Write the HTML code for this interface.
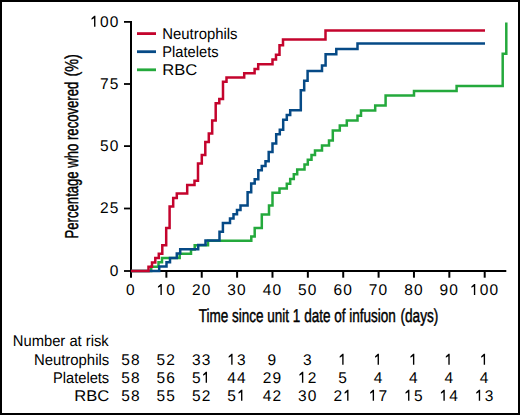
<!DOCTYPE html>
<html><head><meta charset="utf-8"><style>
html,body{margin:0;padding:0;background:#fff;}
#f{position:relative;width:520px;height:415px;overflow:hidden;background:#fff;}
#b{position:absolute;left:0;top:0;width:520px;height:415px;box-sizing:border-box;border:2px solid #000;}
svg{position:absolute;left:0;top:0;}
text{font-family:"Liberation Sans",sans-serif;fill:#000;text-rendering:geometricPrecision;}
.num{font-size:15.5px;text-rendering:geometricPrecision;}
.lbl{font-size:15.5px;}
.ttl{font-size:18.6px;stroke:#000;stroke-width:0.45px;}
</style></head><body><div id="f">
<svg width="520" height="415" viewBox="0 0 520 415">
<line x1="131" y1="21" x2="131" y2="277.7" stroke="#000" stroke-width="2"/>
<line x1="130" y1="271" x2="506.3" y2="271" stroke="#000" stroke-width="2"/>
<line x1="124" y1="21.9" x2="131" y2="21.9" stroke="#000" stroke-width="1.8"/>
<path d="M95.42,15.71 L95.42,26.70 L94.05,26.70 L94.05,18.33 L91.54,19.65 L91.54,18.33 L94.30,15.71 Z" fill="#000"/>
<text class="num" transform="translate(99.96,26.70) scale(1.0,1)">0</text>
<text class="num" transform="translate(109.78,26.70) scale(1.0,1)">0</text>
<line x1="124" y1="84" x2="131" y2="84" stroke="#000" stroke-width="1.8"/>
<text class="num" transform="translate(99.96,88.80) scale(1.0,1)">7</text>
<text class="num" transform="translate(109.78,88.80) scale(1.0,1)">5</text>
<line x1="124" y1="146.1" x2="131" y2="146.1" stroke="#000" stroke-width="1.8"/>
<text class="num" transform="translate(99.96,150.90) scale(1.0,1)">5</text>
<text class="num" transform="translate(109.78,150.90) scale(1.0,1)">0</text>
<line x1="124" y1="208.5" x2="131" y2="208.5" stroke="#000" stroke-width="1.8"/>
<text class="num" transform="translate(99.96,213.30) scale(1.0,1)">2</text>
<text class="num" transform="translate(109.78,213.30) scale(1.0,1)">5</text>
<line x1="124" y1="271" x2="131" y2="271" stroke="#000" stroke-width="1.8"/>
<text class="num" transform="translate(109.78,275.80) scale(1.0,1)">0</text>
<text class="num" transform="translate(126.09,294.90) scale(1.0,1)">0</text>
<line x1="166.37" y1="271" x2="166.37" y2="277.7" stroke="#000" stroke-width="2"/>
<path d="M161.82,283.91 L161.82,294.90 L160.46,294.90 L160.46,286.53 L157.95,287.85 L157.95,286.53 L160.71,283.91 Z" fill="#000"/>
<text class="num" transform="translate(166.37,294.90) scale(1.0,1)">0</text>
<line x1="201.74" y1="271" x2="201.74" y2="277.7" stroke="#000" stroke-width="2"/>
<text class="num" transform="translate(191.92,294.90) scale(1.0,1)">2</text>
<text class="num" transform="translate(201.74,294.90) scale(1.0,1)">0</text>
<line x1="237.11" y1="271" x2="237.11" y2="277.7" stroke="#000" stroke-width="2"/>
<text class="num" transform="translate(227.29,294.90) scale(1.0,1)">3</text>
<text class="num" transform="translate(237.11,294.90) scale(1.0,1)">0</text>
<line x1="272.48" y1="271" x2="272.48" y2="277.7" stroke="#000" stroke-width="2"/>
<text class="num" transform="translate(262.66,294.90) scale(1.0,1)">4</text>
<text class="num" transform="translate(272.48,294.90) scale(1.0,1)">0</text>
<line x1="307.85" y1="271" x2="307.85" y2="277.7" stroke="#000" stroke-width="2"/>
<text class="num" transform="translate(298.03,294.90) scale(1.0,1)">5</text>
<text class="num" transform="translate(307.85,294.90) scale(1.0,1)">0</text>
<line x1="343.22" y1="271" x2="343.22" y2="277.7" stroke="#000" stroke-width="2"/>
<text class="num" transform="translate(333.40,294.90) scale(1.0,1)">6</text>
<text class="num" transform="translate(343.22,294.90) scale(1.0,1)">0</text>
<line x1="378.59" y1="271" x2="378.59" y2="277.7" stroke="#000" stroke-width="2"/>
<text class="num" transform="translate(368.77,294.90) scale(1.0,1)">7</text>
<text class="num" transform="translate(378.59,294.90) scale(1.0,1)">0</text>
<line x1="413.96" y1="271" x2="413.96" y2="277.7" stroke="#000" stroke-width="2"/>
<text class="num" transform="translate(404.14,294.90) scale(1.0,1)">8</text>
<text class="num" transform="translate(413.96,294.90) scale(1.0,1)">0</text>
<line x1="449.33" y1="271" x2="449.33" y2="277.7" stroke="#000" stroke-width="2"/>
<text class="num" transform="translate(439.51,294.90) scale(1.0,1)">9</text>
<text class="num" transform="translate(449.33,294.90) scale(1.0,1)">0</text>
<line x1="484.70" y1="271" x2="484.70" y2="277.7" stroke="#000" stroke-width="2"/>
<path d="M475.24,283.91 L475.24,294.90 L473.88,294.90 L473.88,286.53 L471.37,287.85 L471.37,286.53 L474.13,283.91 Z" fill="#000"/>
<text class="num" transform="translate(479.79,294.90) scale(1.0,1)">0</text>
<text class="num" transform="translate(489.61,294.90) scale(1.0,1)">0</text>
<polyline points="131,271 151.2,271 151.2,266.7 158.5,266.7 158.5,262.3 162,262.3 162,258 179.7,258 179.7,253.8 191,253.8 191,249.5 194.7,249.5 194.7,245.2 208,245.2 208,240.8 251.3,240.8 251.3,236.5 254.7,236.5 254.7,228 261.8,228 261.8,214.6 269,214.6 269,205.5 272.5,205.5 272.5,192.8 279.5,192.8 279.5,188.4 286.8,188.4 286.8,183.8 290.2,183.8 290.2,179 293.8,179 293.8,174.2 297.2,174.2 297.2,169.4 304.5,169.4 304.5,164.6 307.8,164.6 307.8,159.8 311.5,159.8 311.5,155 315,155 315,150.4 322,150.4 322,145.4 329,145.4 329,140.4 332.8,140.4 332.8,130.5 339.8,130.5 339.8,125.5 346.8,125.5 346.8,120.5 357.5,120.5 357.5,115.7 361,115.7 361,110.5 375.2,110.5 375.2,105.6 385.6,105.6 385.6,95.4 414,95.4 414,91 456.6,91 456.6,86 502.7,86 502.7,53.7 506.3,53.7 506.3,22.5" fill="none" stroke="#24A93C" stroke-width="2.5" stroke-linejoin="miter" stroke-linecap="butt"/>
<polyline points="131,271 159.2,271 159.2,266.6 166.5,266.6 166.5,262.3 170,262.3 170,258 176.8,258 176.8,253.6 180.2,253.6 180.2,249.2 198.2,249.2 198.2,244.9 205.5,244.9 205.5,240.6 219.5,240.6 219.5,231.8 222.9,231.8 222.9,223 230,223 230,218.6 233.5,218.6 233.5,214.2 237,214.2 237,209.9 240.5,209.9 240.5,205.4 247.6,205.4 247.6,192.2 251.2,192.2 251.2,183.6 254.7,183.6 254.7,179.2 258.3,179.2 258.3,170.3 261.8,170.3 261.8,165.9 265.5,165.9 265.5,161.3 268.7,161.3 268.7,152.1 272.5,152.1 272.5,143.6 276.2,143.6 276.2,134.2 279.8,134.2 279.8,129.8 283.2,129.8 283.2,119.7 286.8,119.7 286.8,114.9 290.2,114.9 290.2,110.2 300.8,110.2 300.8,90.3 304.2,90.3 304.2,80.8 307.6,80.8 307.6,70.9 322,70.9 322,65.4 325.6,65.4 325.6,54.3 336.3,54.3 336.3,49 357.5,49 357.5,43.5 485,43.5" fill="none" stroke="#064A86" stroke-width="2.5" stroke-linejoin="miter" stroke-linecap="butt"/>
<polyline points="131,271 148.5,271 148.5,266.7 152,266.7 152,262.4 155.3,262.4 155.3,258.1 158.8,258.1 158.8,253.8 162.3,253.8 162.3,245.2 166.2,245.2 166.2,228 169.6,228 169.6,206.4 173.2,206.4 173.2,198 176.8,198 176.8,193.6 187.2,193.6 187.2,185 194.5,185 194.5,180.7 198,180.7 198,163.5 201.8,163.5 201.8,155 205.3,155 205.3,142 208.8,142 208.8,133.4 212.2,133.4 212.2,120.6 215.7,120.6 215.7,103.2 219.3,103.2 219.3,99 223,99 223,81.8 226.5,81.8 226.5,77.5 244.2,77.5 244.2,73.2 254.6,73.2 254.6,69 258.2,69 258.2,64.3 272.5,64.3 272.5,59.4 276,59.4 276,54.8 279.5,54.8 279.5,45.3 283,45.3 283,39.4 325.5,39.4 325.5,30.5 485,30.5" fill="none" stroke="#C4042D" stroke-width="2.5" stroke-linejoin="miter" stroke-linecap="butt"/>
<line x1="137" y1="33.6" x2="156" y2="33.6" stroke="#C4042D" stroke-width="2.8"/>
<text class="lbl" transform="translate(162.3,38.5) scale(0.96,1)">Neutrophils</text>
<line x1="137" y1="51.7" x2="156" y2="51.7" stroke="#064A86" stroke-width="2.8"/>
<text class="lbl" transform="translate(162.3,56.5) scale(0.946,1)">Platelets</text>
<line x1="137" y1="69.8" x2="156" y2="69.8" stroke="#24A93C" stroke-width="2.8"/>
<text class="lbl" transform="translate(162.3,74.5) scale(1.07,1)">RBC</text>
<text class="ttl" transform="translate(198.67,321.8) scale(0.7272,1)">Time since unit 1 date of infusion</text>
<text class="ttl" transform="translate(400.42,321.8) scale(0.7348,1)">(days)</text>
<text class="ttl" transform="translate(78.1,238.42) rotate(-90) scale(0.7053,1)">Percentage who recovered</text>
<text class="ttl" transform="translate(78.1,76.62) rotate(-90) scale(0.7795,1)">(%)</text>
<text class="lbl" transform="translate(12.8,346) scale(0.952,1)">Number at risk</text>
<text class="lbl" transform="translate(109.2,364.6) scale(0.96,1)" text-anchor="end">Neutrophils</text>
<text class="num" transform="translate(121.18,364.70) scale(1.0,1)">5</text>
<text class="num" transform="translate(131.00,364.70) scale(1.0,1)">8</text>
<text class="num" transform="translate(156.55,364.70) scale(1.0,1)">5</text>
<text class="num" transform="translate(166.37,364.70) scale(1.0,1)">2</text>
<text class="num" transform="translate(191.92,364.70) scale(1.0,1)">3</text>
<text class="num" transform="translate(201.74,364.70) scale(1.0,1)">3</text>
<path d="M232.56,353.71 L232.56,364.70 L231.20,364.70 L231.20,356.33 L228.69,357.65 L228.69,356.33 L231.45,353.71 Z" fill="#000"/>
<text class="num" transform="translate(237.11,364.70) scale(1.0,1)">3</text>
<text class="num" transform="translate(267.57,364.70) scale(1.0,1)">9</text>
<text class="num" transform="translate(302.94,364.70) scale(1.0,1)">3</text>
<path d="M343.58,353.71 L343.58,364.70 L342.22,364.70 L342.22,356.33 L339.71,357.65 L339.71,356.33 L342.46,353.71 Z" fill="#000"/>
<path d="M378.95,353.71 L378.95,364.70 L377.59,364.70 L377.59,356.33 L375.08,357.65 L375.08,356.33 L377.83,353.71 Z" fill="#000"/>
<path d="M414.32,353.71 L414.32,364.70 L412.96,364.70 L412.96,356.33 L410.45,357.65 L410.45,356.33 L413.20,353.71 Z" fill="#000"/>
<path d="M449.69,353.71 L449.69,364.70 L448.33,364.70 L448.33,356.33 L445.82,357.65 L445.82,356.33 L448.57,353.71 Z" fill="#000"/>
<path d="M485.06,353.71 L485.06,364.70 L483.70,364.70 L483.70,356.33 L481.19,357.65 L481.19,356.33 L483.94,353.71 Z" fill="#000"/>
<text class="lbl" transform="translate(109.2,382.6) scale(0.946,1)" text-anchor="end">Platelets</text>
<text class="num" transform="translate(121.18,382.70) scale(1.0,1)">5</text>
<text class="num" transform="translate(131.00,382.70) scale(1.0,1)">8</text>
<text class="num" transform="translate(156.55,382.70) scale(1.0,1)">5</text>
<text class="num" transform="translate(166.37,382.70) scale(1.0,1)">6</text>
<text class="num" transform="translate(191.92,382.70) scale(1.0,1)">5</text>
<path d="M207.01,371.71 L207.01,382.70 L205.65,382.70 L205.65,374.33 L203.14,375.65 L203.14,374.33 L205.89,371.71 Z" fill="#000"/>
<text class="num" transform="translate(227.29,382.70) scale(1.0,1)">4</text>
<text class="num" transform="translate(237.11,382.70) scale(1.0,1)">4</text>
<text class="num" transform="translate(262.66,382.70) scale(1.0,1)">2</text>
<text class="num" transform="translate(272.48,382.70) scale(1.0,1)">9</text>
<path d="M303.30,371.71 L303.30,382.70 L301.94,382.70 L301.94,374.33 L299.43,375.65 L299.43,374.33 L302.19,371.71 Z" fill="#000"/>
<text class="num" transform="translate(307.85,382.70) scale(1.0,1)">2</text>
<text class="num" transform="translate(338.31,382.70) scale(1.0,1)">5</text>
<text class="num" transform="translate(373.68,382.70) scale(1.0,1)">4</text>
<text class="num" transform="translate(409.05,382.70) scale(1.0,1)">4</text>
<text class="num" transform="translate(444.42,382.70) scale(1.0,1)">4</text>
<text class="num" transform="translate(479.79,382.70) scale(1.0,1)">4</text>
<text class="lbl" transform="translate(109.2,400.6) scale(1.07,1)" text-anchor="end">RBC</text>
<text class="num" transform="translate(121.18,400.70) scale(1.0,1)">5</text>
<text class="num" transform="translate(131.00,400.70) scale(1.0,1)">8</text>
<text class="num" transform="translate(156.55,400.70) scale(1.0,1)">5</text>
<text class="num" transform="translate(166.37,400.70) scale(1.0,1)">5</text>
<text class="num" transform="translate(191.92,400.70) scale(1.0,1)">5</text>
<text class="num" transform="translate(201.74,400.70) scale(1.0,1)">2</text>
<text class="num" transform="translate(227.29,400.70) scale(1.0,1)">5</text>
<path d="M242.38,389.71 L242.38,400.70 L241.02,400.70 L241.02,392.33 L238.51,393.65 L238.51,392.33 L241.26,389.71 Z" fill="#000"/>
<text class="num" transform="translate(262.66,400.70) scale(1.0,1)">4</text>
<text class="num" transform="translate(272.48,400.70) scale(1.0,1)">2</text>
<text class="num" transform="translate(298.03,400.70) scale(1.0,1)">3</text>
<text class="num" transform="translate(307.85,400.70) scale(1.0,1)">0</text>
<text class="num" transform="translate(333.40,400.70) scale(1.0,1)">2</text>
<path d="M348.49,389.71 L348.49,400.70 L347.13,400.70 L347.13,392.33 L344.61,393.65 L344.61,392.33 L347.37,389.71 Z" fill="#000"/>
<path d="M374.04,389.71 L374.04,400.70 L372.68,400.70 L372.68,392.33 L370.17,393.65 L370.17,392.33 L372.93,389.71 Z" fill="#000"/>
<text class="num" transform="translate(378.59,400.70) scale(1.0,1)">7</text>
<path d="M409.41,389.71 L409.41,400.70 L408.05,400.70 L408.05,392.33 L405.54,393.65 L405.54,392.33 L408.30,389.71 Z" fill="#000"/>
<text class="num" transform="translate(413.96,400.70) scale(1.0,1)">5</text>
<path d="M444.78,389.71 L444.78,400.70 L443.42,400.70 L443.42,392.33 L440.91,393.65 L440.91,392.33 L443.67,389.71 Z" fill="#000"/>
<text class="num" transform="translate(449.33,400.70) scale(1.0,1)">4</text>
<path d="M480.15,389.71 L480.15,400.70 L478.79,400.70 L478.79,392.33 L476.28,393.65 L476.28,392.33 L479.04,389.71 Z" fill="#000"/>
<text class="num" transform="translate(484.70,400.70) scale(1.0,1)">3</text>
</svg>
<div id="b"></div>
</div></body></html>
